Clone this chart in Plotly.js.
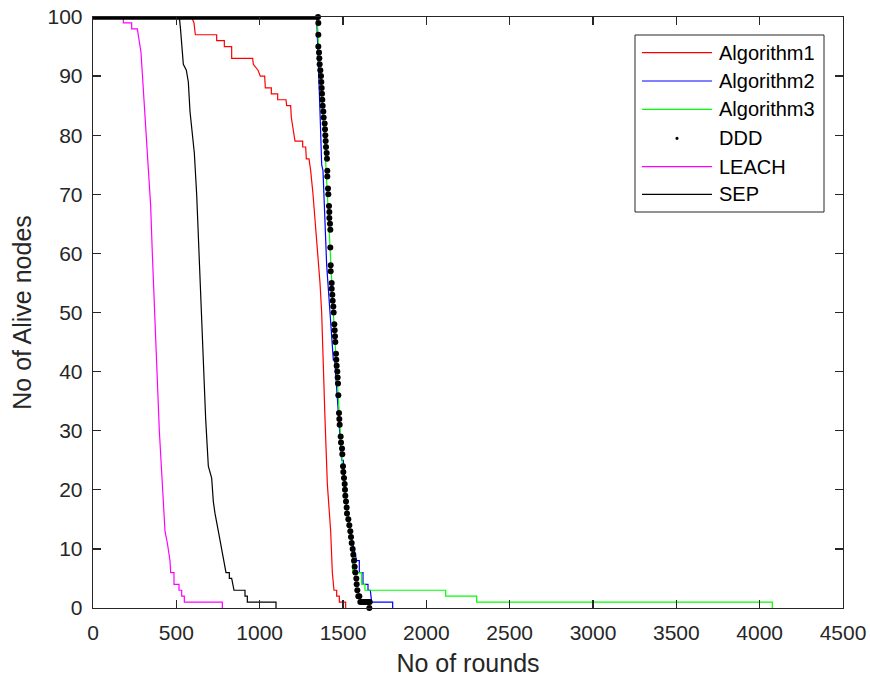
<!DOCTYPE html>
<html>
<head>
<meta charset="utf-8">
<script src="https://cdn.plot.ly/plotly-3.0.1.min.js"></script>
<style>html,body{margin:0;padding:0;background:#fff;}#chart{width:870px;height:677px;}</style>
</head>
<body>
<div id="chart"></div>
<script>
// ---- data ----
const seriesNames = ["Algorithm1", "Algorithm2", "Algorithm3", "DDD", "LEACH", "SEP"];

const alg1X = [0,592,606,614,742,742,788,788,832,832,958,962,990,1004,1030,1034,1070,1070,1108,1108,1158,1162,1186,1190,1212,1258,1258,1276,1280,1296,1306,1320,1362,1372,1392,1406,1426,1436,1446,1462,1462,1478,1478,1516,1516];
const alg1Y = [100,100,99,97,97,96,96,95,95,93,93,92,91,90,90,88,88,87,87,86,86,85,85,83,79,79,78,78,76,76,74,70,55,50,32,21,13,6,3,3,2,2,1,1,0];

const alg2X = [0,1342,1362,1372,1380,1398,1402,1422,1442,1450,1492,1502,1522,1542,1550,1582,1598,1598,1620,1620,1650,1650,1664,1672,1798,1798];
const alg2Y = [100,100,84,75,74,61,58,50,42,42,25,25,17,13,12,8,8,6,6,4,4,3,3,1,1,0];

const alg3X = [0,1345,1350,1362,1388,1408,1424,1442,1464,1482,1494,1510,1528,1548,1556,1558,1612,1612,1632,1632,2116,2116,2302,2302,4076,4076];
const alg3Y = [100,100,97,90,80,70,60,50,40,30,25,20,15,12,11,6,6,4,4,3,3,2,2,1,1,0];

// DDD: plateau of overlapping dots at 100 alive nodes, then individual dots
const dddPlateauX = [0, 1350];
const dddPlateauY = [100, 100];
const dddX = [1350,1352,1352,1352,1356,1358,1360,1364,1368,1370,1372,1374,1376,1378,1382,1384,1390,1392,1394,1396,1398,1402,1404,1406,1406,1410,1412,1416,1418,1418,1422,1424,1424,1426,1426,1432,1432,1436,1438,1442,1444,1448,1450,1452,1454,1458,1460,1462,1466,1468,1470,1472,1476,1478,1480,1486,1488,1494,1496,1500,1502,1506,1510,1512,1514,1518,1522,1524,1532,1538,1544,1548,1552,1558,1562,1566,1570,1574,1580,1582,1586,1592,1598,1604,1614,1624,1634,1644,1654,1660,1658];
const dddY = [100,99,97,95,94,93,92,91,90,89,88,87,86,85,84,83,82,81,80,79,78,77,76,74,73,71,70,68,67,66,65,64,61,58,57,55,54,53,52,51,50,48,47,46,45,43,42,41,40,39,38,36,33,32,31,29,28,27,26,24,23,22,21,20,19,18,17,16,15,14,13,12,11,10,9,8,7,6,5,4,3,2,2,1,1,1,1,1,1,1,0];

const leachX = [0,182,182,232,232,266,288,302,332,346,356,386,398,418,425,432,446,462,466,486,486,516,516,532,532,548,548,776,776];
const leachY = [100,100,99,99,98,98,94,88,75,68,60,40,30,20,16,13,11,8,6,6,4,4,3,3,2,2,1,1,0];

const sepX = [0,518,525,542,560,572,582,598,608,622,636,646,662,676,692,712,722,732,752,770,786,798,818,818,832,846,912,912,926,926,1098,1098];
const sepY = [100,100,98,92,91,89,84,80,77,70,60,55,42,32,24,22,18,16,13,10,8,6,6,5,5,3,3,2,2,1,1,0];

const xTicks = [0,500,1000,1500,2000,2500,3000,3500,4000,4500];
const yTicks = [0,10,20,30,40,50,60,70,80,90,100];

// ---- styling ----
const colors = {Algorithm1:"#FF0000", Algorithm2:"#0000FF", Algorithm3:"#00FF00", DDD:"#000000", LEACH:"#FF00FF", SEP:"#000000"};
const FONT = '"Liberation Sans", Arial, Helvetica, sans-serif';
const AX = "#262626";
const LW = 1.2;

function lineTrace(x, y, name) {
  return {x: x, y: y, name: name, type: "scatter", mode: "lines",
          line: {color: colors[name], width: LW}, showlegend: false, hoverinfo: "skip"};
}

const traces = [
  lineTrace(alg1X, alg1Y, "Algorithm1"),
  lineTrace(alg2X, alg2Y, "Algorithm2"),
  lineTrace(alg3X, alg3Y, "Algorithm3"),
  {x: dddX, y: dddY, name: "DDD", type: "scatter", mode: "markers", cliponaxis: false,
   marker: {color: "#000000", size: 6, symbol: "circle"}, showlegend: false, hoverinfo: "skip"},
  lineTrace(leachX, leachY, "LEACH"),
  lineTrace(sepX, sepY, "SEP"),
  {x: dddPlateauX, y: dddPlateauY, name: "DDD", type: "scatter", mode: "lines", cliponaxis: false,
   line: {color: "#000000", width: 5.5}, showlegend: false, hoverinfo: "skip"}
];

// ---- plot area geometry (px) ----
const W = 870, H = 677;
const L = 93, R = 843, T = 17, B = 608;
const px2x = p => (p - L) / (R - L);
const px2y = p => (B - p) / (B - T);

// manual legend (MATLAB style)
const legBox = {x0: 635, x1: 824, y0: 35, y1: 212};
const legRows = [52.7, 81, 109.3, 138.3, 166.7, 194.3];
const shapes = [{type: "rect", xref: "paper", yref: "paper",
  x0: px2x(legBox.x0), x1: px2x(legBox.x1), y0: px2y(legBox.y1), y1: px2y(legBox.y0),
  line: {color: AX, width: 1}, fillcolor: "#ffffff", layer: "above"}];
const annotations = [];
seriesNames.forEach((nm, i) => {
  const yy = px2y(legRows[i]);
  if (nm === "DDD") {
    shapes.push({type: "circle", xref: "paper", yref: "paper", layer: "above",
      x0: px2x(677 - 1.6), x1: px2x(677 + 1.6), y0: px2y(legRows[i] + 1.6), y1: px2y(legRows[i] - 1.6),
      fillcolor: "#000000", line: {color: "#000000", width: 0}});
  } else {
    shapes.push({type: "line", xref: "paper", yref: "paper", layer: "above",
      x0: px2x(642), x1: px2x(712), y0: yy, y1: yy, line: {color: colors[nm], width: LW}});
  }
  annotations.push({xref: "paper", yref: "paper", x: px2x(717), y: yy, xanchor: "left", yanchor: "middle",
    text: nm, showarrow: false, font: {family: FONT, size: 20, color: "#000000"}});
});

const layout = {
  width: W, height: H,
  margin: {l: L, r: W - R, t: T, b: H - B, pad: 0},
  paper_bgcolor: "#ffffff", plot_bgcolor: "#ffffff",
  showlegend: false,
  font: {family: FONT, size: 21, color: AX},
  xaxis: {
    range: [0, 4500], tickvals: xTicks, ticktext: xTicks.map(String),
    ticks: "inside", ticklen: 8, tickwidth: 1.3, tickcolor: AX,
    showline: true, linecolor: AX, linewidth: 1.3, mirror: "ticks",
    showgrid: false, zeroline: false, ticklabelstandoff: 5,
    tickfont: {family: FONT, size: 21, color: AX},
    title: {text: "No of rounds", font: {family: FONT, size: 25, color: AX}, standoff: 14}
  },
  yaxis: {
    range: [0, 100], tickvals: yTicks, ticktext: yTicks.map(String),
    ticks: "inside", ticklen: 8, tickwidth: 1.3, tickcolor: AX,
    showline: true, linecolor: AX, linewidth: 1.3, mirror: "ticks",
    showgrid: false, zeroline: false, ticklabelstandoff: 5,
    tickfont: {family: FONT, size: 21, color: AX},
    title: {text: "No of Alive nodes", font: {family: FONT, size: 25, color: AX}, standoff: 8}
  },
  shapes: shapes,
  annotations: annotations
};

Plotly.newPlot("chart", traces, layout, {displayModeBar: false, staticPlot: true});
</script>
</body>
</html>
